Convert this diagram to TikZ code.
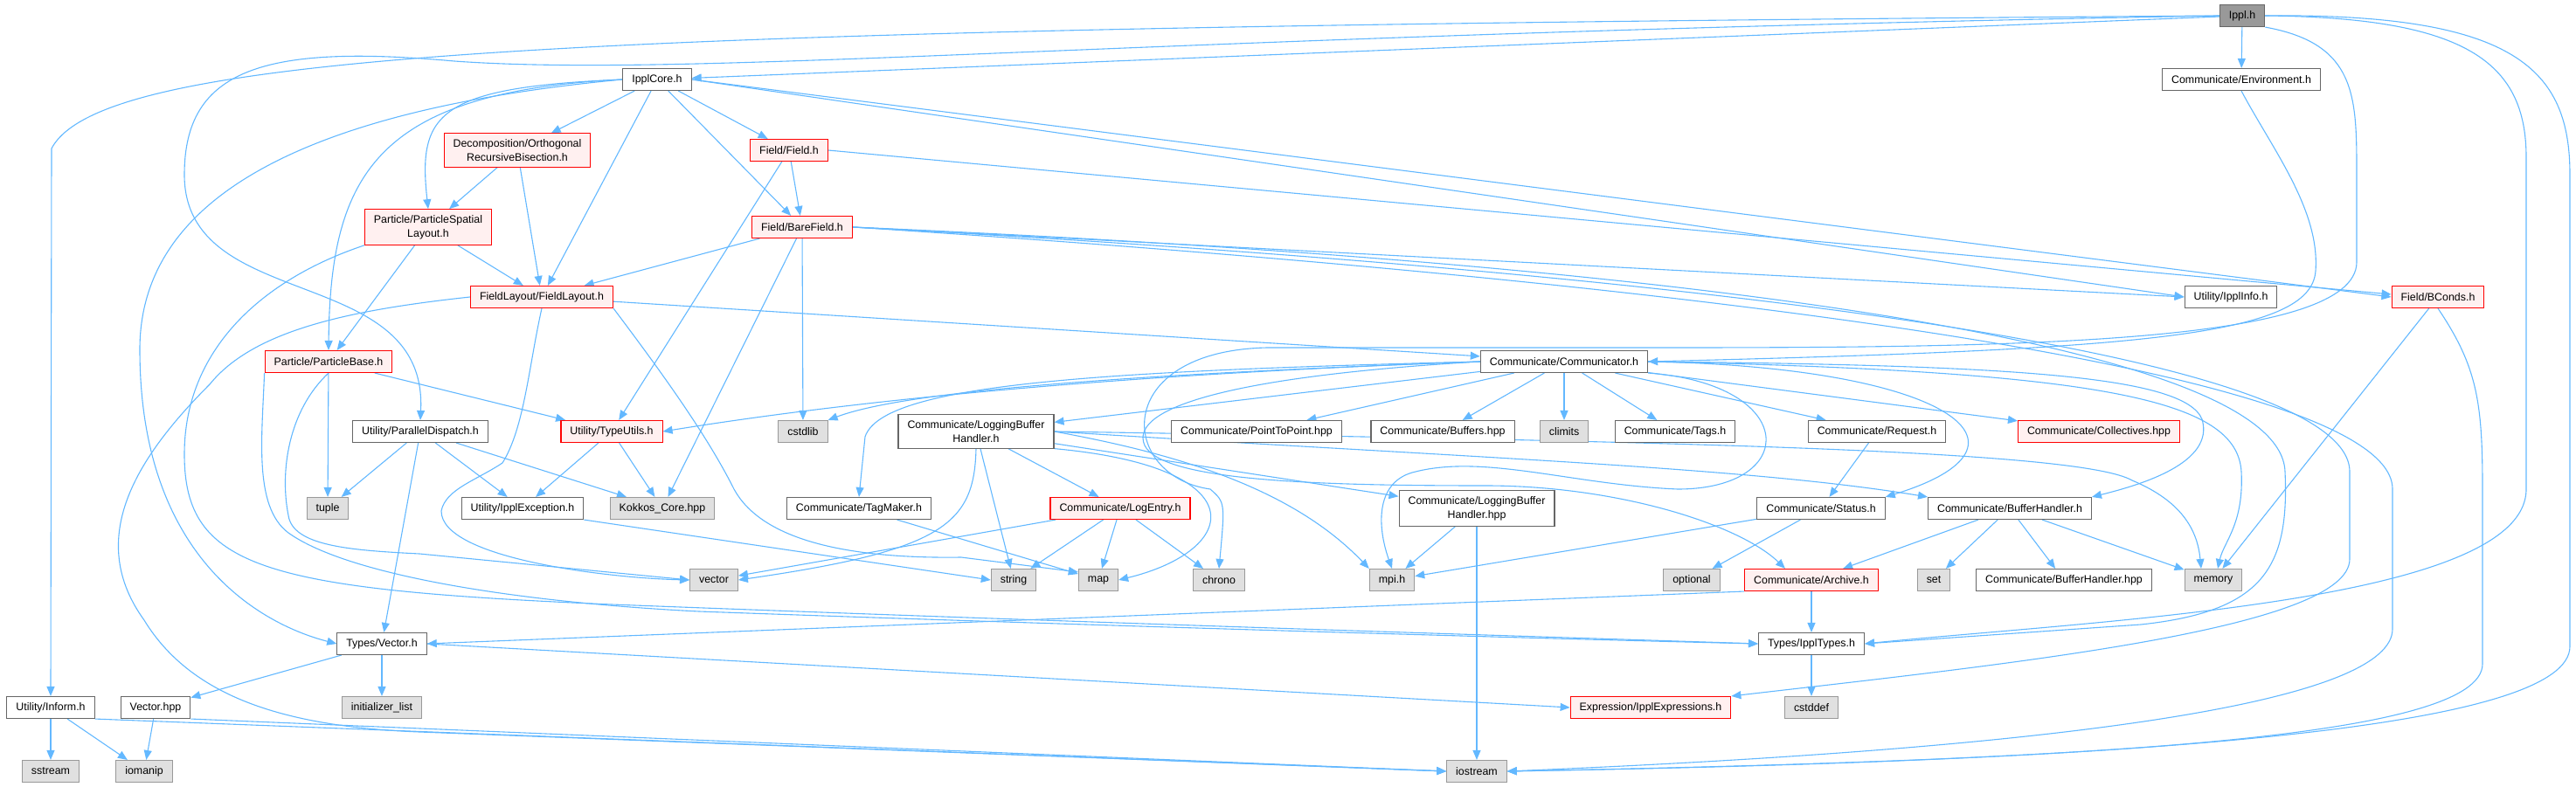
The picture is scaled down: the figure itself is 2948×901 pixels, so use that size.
\documentclass[tikz,border=0pt]{standalone}
\usepackage{fontspec}
\setmainfont{Liberation Sans}
\usetikzlibrary{arrows.meta,backgrounds}
\definecolor{edgeblue}{HTML}{63B8FF}
\definecolor{redfill}{HTML}{FFF0F0}
\definecolor{sysfill}{HTML}{E0E0E0}
\definecolor{sysline}{HTML}{999999}
\definecolor{hdrline}{HTML}{666666}
\definecolor{mainfill}{HTML}{999999}

\begin{document}
\begin{tikzpicture}[x=1pt, y=-1pt,
    hdr/.style={rectangle, draw=hdrline, fill=white, line width=1.1pt, minimum height=25pt, inner xsep=10.5pt, inner ysep=6.5pt, align=center, font=\fontsize{12.4}{16}\selectfont},
    hdrred/.style={hdr, draw=red, fill=redfill},
    syshdr/.style={hdr, draw=sysline, fill=sysfill},
    mainhdr/.style={hdr, fill=mainfill},
    incl/.style={-{Triangle[length=11pt, width=9pt]}, draw=edgeblue, line width=1.1pt}
]
    \useasboundingbox (0,0) rectangle (2948,901);
    \node[mainhdr] (ippl)     at (2566,18)  {Ippl.h};
    \node[hdr]     (core)     at (752,91)   {IpplCore.h};
    \node[hdr]     (env)      at (2565,91)  {Communicate/Environment.h};
    \node[hdrred]  (orb)      at (592,172)  {Decomposition/Orthogonal\\RecursiveBisection.h};
    \node[hdrred]  (field)    at (903,172)  {Field/Field.h};
    \node[hdrred]  (psl)      at (490,260)  {Particle/ParticleSpatial\\Layout.h};
    \node[hdrred]  (bare)     at (918,260)  {Field/BareField.h};
    \node[hdrred]  (flayout)  at (620,340)  {FieldLayout/FieldLayout.h};
    \node[hdr]     (info)     at (2553,340) {Utility/IpplInfo.h};
    \node[hdrred]  (bconds)   at (2790,340) {Field/BConds.h};
    \node[hdrred]  (pbase)    at (376,414)  {Particle/ParticleBase.h};
    \node[hdr]     (comm)     at (1790,414) {Communicate/Communicator.h};
    \node[hdr]     (pdisp)    at (481,494)  {Utility/ParallelDispatch.h};
    \node[hdrred]  (tutils)   at (700,494)  {Utility/TypeUtils.h};
    \node[syshdr]  (cstdlib)  at (919,494)  {cstdlib};
    \node[hdr]     (lbh)      at (1117,494) {Communicate/LoggingBuffer\\Handler.h};
    \node[hdr]     (p2p)      at (1438,494) {Communicate/PointToPoint.hpp};
    \node[hdr]     (buffers)  at (1651,494) {Communicate/Buffers.hpp};
    \node[syshdr]  (climits)  at (1790,494) {climits};
    \node[hdr]     (tags)     at (1917,494) {Communicate/Tags.h};
    \node[hdr]     (request)  at (2148,494) {Communicate/Request.h};
    \node[hdrred]  (coll)     at (2402,494) {Communicate/Collectives.hpp};
    \node[syshdr]  (tuple)    at (375,582)  {tuple};
    \node[hdr]     (exc)      at (598,582)  {Utility/IpplException.h};
    \node[syshdr]  (kokkos)   at (758,582)  {Kokkos\_Core.hpp};
    \node[hdr]     (tagmaker) at (983,582)  {Communicate/TagMaker.h};
    \node[hdrred]  (logentry) at (1282,582) {Communicate/LogEntry.h};
    \node[hdr]     (lbhpp)    at (1690,582) {Communicate/LoggingBuffer\\Handler.hpp};
    \node[hdr]     (status)   at (2084,582) {Communicate/Status.h};
    \node[hdr]     (bufh)     at (2300,582) {Communicate/BufferHandler.h};
    \node[syshdr]  (vector)   at (817,664)  {vector};
    \node[syshdr]  (string)   at (1160,664) {string};
    \node[syshdr]  (map)      at (1257,664) {map};
    \node[syshdr]  (chrono)   at (1395,664) {chrono};
    \node[syshdr]  (mpi)      at (1593,664) {mpi.h};
    \node[syshdr]  (optional) at (1936,664) {optional};
    \node[hdrred]  (archive)  at (2073,664) {Communicate/Archive.h};
    \node[syshdr]  (set)      at (2213,664) {set};
    \node[hdr]     (bufhpp)   at (2362,664) {Communicate/BufferHandler.hpp};
    \node[syshdr]  (memory)   at (2533,664) {memory};
    \node[hdr]     (vec)      at (437,737)  {Types/Vector.h};
    \node[hdr]     (types)    at (2073,737) {Types/IpplTypes.h};
    \node[hdr]     (inform)   at (58,810)   {Utility/Inform.h};
    \node[hdr]     (vechpp)   at (178,810)  {Vector.hpp};
    \node[syshdr]  (initl)    at (437,810)  {initializer\_list};
    \node[hdrred]  (expr)     at (1889,810) {Expression/IpplExpressions.h};
    \node[syshdr]  (cstddef)  at (2073,810) {cstddef};
    \node[syshdr]  (sstream)  at (58,883)   {sstream};
    \node[syshdr]  (iomanip)  at (165,883)  {iomanip};
    \node[syshdr]  (iostream) at (1690,883) {iostream};

    \begin{scope}[on background layer]
    \draw[incl] (ippl) -- (core);
    \draw[incl] (ippl.west) .. controls (700,32) and (120,55) .. (59,170) -- (inform.north);
    \draw[incl] (ippl.west) .. controls (1300,40) and (800,90) .. (520,70) .. controls (300,50) and (211,80) .. (211,200) .. controls (211,360) and (490,300) .. (pdisp.north);
    \draw[incl] (ippl) -- (env);
    \draw[incl] (ippl.south east) .. controls (2697,50) and (2697,110) .. (2697,200) -- (2697,300) .. controls (2697,395) and (2300,398) .. (1900,398) -- (1450,398) .. controls (1270,402) and (1280,545) .. (1385,560) .. controls (1402,575) .. (chrono.north);
    \draw[incl] (ippl.east) .. controls (2820,20) and (2891,70) .. (2891,180) -- (2891,560) .. controls (2891,690) and (2400,710) .. (types.east);
    \draw[incl] (ippl.east) .. controls (2880,15) and (2941,80) .. (2941,200) -- (2941,740) .. controls (2941,830) and (2500,870) .. (iostream.east);
    \draw[incl] (env.south) .. controls (2600,170) and (2655,240) .. (2650,310) .. controls (2645,385) and (2450,400) .. (comm.east);
    \draw[incl] (core) -- (orb);
    \draw[incl] (core) -- (field);
    \draw[incl] (core) -- (bare);
    \draw[incl] (core) -- (flayout);
    \draw[incl] (core.west) .. controls (500,100) and (478,130) .. (psl.north);
    \draw[incl] (core.west) .. controls (430,105) and (378,200) .. (pbase.north);
    \draw[incl] (core.west) .. controls (300,130) and (160,250) .. (160,400) .. controls (160,640) and (300,715) .. (vec.west);
    \draw[incl] (core.east) -- (bconds.west);
    \draw[incl] (core.east) -- (info.west);
    \draw[incl] (orb) -- (psl);
    \draw[incl] (orb) -- (flayout);
    \draw[incl] (field) -- (bare);
    \draw[incl] (field) -- (tutils);
    \draw[incl] (field.east) -- ([yshift=3pt]bconds.west);
    \draw[incl] (bare) -- (flayout);
    \draw[incl] (bare) -- (kokkos);
    \draw[incl] (bare) -- (cstdlib);
    \draw[incl] (bare.east) -- (info.west);
    \draw[incl] (bare.east) .. controls (1900,300) and (2610,390) .. (2615,540) .. controls (2620,650) and (2590,700) .. (2450,715) -- (types.east);
    \draw[incl] (bare.east) .. controls (1900,310) and (2689,400) .. (2689,540) -- (2689,640) .. controls (2689,720) and (2300,760) .. (expr.north east);
    \draw[incl] (bare.east) .. controls (1900,320) and (2738,420) .. (2738,560) -- (2738,720) .. controls (2738,800) and (2400,855) .. (iostream.east);
    \draw[incl] (psl) -- (flayout);
    \draw[incl] (psl) -- (pbase);
    \draw[incl] (psl.south west) .. controls (300,320) and (211,400) .. (211,520) .. controls (211,650) and (300,675) .. (700,692) .. controls (1300,715) and (1800,730) .. (types.west);
    \draw[incl] (flayout) -- (comm);
    \draw[incl] (flayout.west) .. controls (400,355) and (290,378) .. (240,440) .. controls (150,530) and (100,620) .. (165,710) .. controls (220,800) and (330,832) .. (480,838) -- (iostream.west);
    \draw[incl] (flayout.south) .. controls (605,420) and (600,490) .. (575,530) .. controls (545,550) and (510,560) .. (505,585) .. controls (505,640) and (700,662) .. (vector.west);
    \draw[incl] (flayout.south east) .. controls (760,430) and (810,500) .. (840,560) .. controls (870,615) and (960,640) .. (1100,638) -- ([yshift=-4pt]map.north west);
    \draw[incl] (pbase) -- (tuple);
    \draw[incl] (pbase) -- (tutils);
    \draw[incl] (pbase.south) .. controls (330,470) and (320,540) .. (330,590) .. controls (335,625) and (400,630) .. (480,634) -- (vector.west);
    \draw[incl] (pbase.south west) .. controls (300,500) and (290,580) .. (330,610) .. controls (400,660) and (600,690) .. (800,700) .. controls (1300,718) and (1800,732) .. (types.west);
    \draw[incl] (pdisp) -- (tuple);
    \draw[incl] (pdisp) -- (exc);
    \draw[incl] (pdisp) -- (kokkos);
    \draw[incl] (pdisp) -- (vec);
    \draw[incl] (tutils) -- (exc);
    \draw[incl] (tutils) -- (kokkos);
    \draw[incl] (exc.south east) -- (string.west);
    \draw[incl] (vec) -- (vechpp);
    \draw[incl] (vec) -- (initl);
    \draw[incl] (vec.east) -- (expr.west);
    \draw[incl] (archive.south west) -- (vec.east);
    \draw[incl] (archive) -- (types);
    \draw[incl] (types) -- (cstddef);
    \draw[incl] (inform) -- (sstream);
    \draw[incl] (inform) -- (iomanip);
    \draw[incl] (inform.south east) -- (iostream.west);
    \draw[incl] (vechpp) -- (iomanip);
    \draw[incl] (vechpp.south east) -- (iostream.west);
    \draw[incl] (comm.west) .. controls (1300,428) and (1000,455) .. (tutils.east);
    \draw[incl] (comm.west) .. controls (1250,430) and (1030,450) .. (cstdlib.north east);
    \draw[incl] (comm.west) .. controls (1250,425) and (1010,440) .. (990,500) -- (tagmaker.north);
    \draw[incl] (comm) -- (lbh);
    \draw[incl] (comm) -- (p2p);
    \draw[incl] (comm) -- (buffers);
    \draw[incl] (comm) -- (climits);
    \draw[incl] (comm) -- (tags);
    \draw[incl] (comm) -- (request);
    \draw[incl] (comm) -- (coll);
    \draw[incl] (comm.east) .. controls (2230,420) and (2350,510) .. (status.north east);
    \draw[incl] (comm.east) .. controls (2300,418) and (2500,430) .. (2520,480) .. controls (2535,530) and (2450,555) .. (bufh.north east);
    \draw[incl] (comm.east) .. controls (2420,425) and (2560,460) .. (2565,540) .. controls (2568,600) and (2545,620) .. ([xshift=5pt]memory.north);
    \draw[incl] (comm.south east) .. controls (2060,440) and (2060,560) .. (1920,560) .. controls (1800,555) and (1700,520) .. (1620,540) .. controls (1575,550) and (1575,600) .. (mpi.north);
    \draw[incl] (comm.west) .. controls (1420,430) and (1290,465) .. (1310,510) .. controls (1330,550) and (1500,556) .. (1700,556) .. controls (1850,556) and (1990,600) .. ([xshift=-30pt]archive.north);
    \draw[incl] (lbh.south) .. controls (1115,600) and (1080,630) .. (vector.east);
    \draw[incl] (lbh) -- (string);
    \draw[incl] (lbh) -- (logentry);
    \draw[incl] (lbh.south east) .. controls (1440,535) and (1420,630) .. (map.east);
    \draw[incl] (lbh) -- (lbhpp);
    \draw[incl] (lbh.east) .. controls (1350,520) and (1480,560) .. (mpi.north west);
    \draw[incl] (lbh.east) .. controls (1700,525) and (2000,535) .. (bufh.north west);
    \draw[incl] (lbh.east) .. controls (1900,505) and (2380,515) .. (2440,550) .. controls (2500,575) and (2515,610) .. ([xshift=-14pt]memory.north);
    \draw[incl] (logentry) -- (vector);
    \draw[incl] (logentry) -- (string);
    \draw[incl] (logentry) -- (map);
    \draw[incl] (logentry) -- (chrono);
    \draw[incl] (tagmaker) -- (map);
    \draw[incl] (lbhpp) -- (mpi);
    \draw[incl] (lbhpp) -- (iostream);
    \draw[incl] (status) -- (mpi);
    \draw[incl] (status) -- (optional);
    \draw[incl] (request) -- (status);
    \draw[incl] (bufh) -- (archive);
    \draw[incl] (bufh) -- (set);
    \draw[incl] (bufh) -- (bufhpp);
    \draw[incl] (bufh) -- (memory);
    \draw[incl] (bconds) -- (memory);
    \draw[incl] (bconds.south) .. controls (2835,420) and (2841,460) .. (2841,560) -- (2841,760) .. controls (2841,845) and (2400,870) .. (iostream.east);
    \end{scope}
\end{tikzpicture}
\end{document}
